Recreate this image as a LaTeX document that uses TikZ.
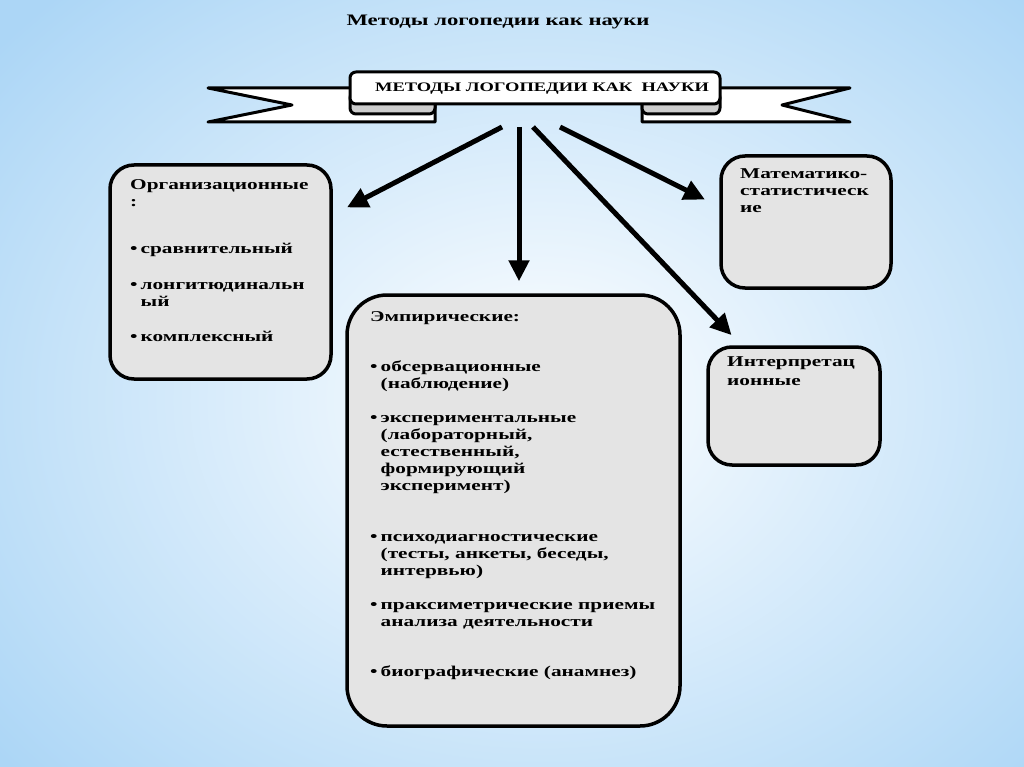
\documentclass[tikz,border=0pt]{standalone}
\usepackage{fontspec}
\setmainfont{Liberation Serif}[FakeStretch=1.42]
\usetikzlibrary{arrows.meta}
\definecolor{bgblue}{RGB}{172,214,246}
\definecolor{boxgray}{RGB}{228,228,228}
\definecolor{foldgray}{RGB}{205,205,205}
\newcommand{\bul}{•\hspace{3pt}}
\newcommand{\contline}{\hphantom{•\hspace{3pt}}}
\tikzset{
	box/.style={draw, line width=3.5pt, fill=boxgray, rounded corners=24pt, inner sep=0pt},
	txt/.style={anchor=north west, align=left, inner sep=0pt, font=\bfseries\fontsize{15}{17}\selectfont},
	arr/.style={line width=5pt, -{Triangle[length=21pt,width=20pt]}},
	ribbon/.style={draw, line width=3pt, fill=white, line join=round},
}

\begin{document}
\begin{tikzpicture}[x=1pt, y=-1pt]
		% background
		\useasboundingbox (0,0) rectangle (1024,767);
		\begin{scope}
			\clip (0,0) rectangle (1024,767);
			\fill[bgblue] (0,0) rectangle (1024,767);
			\shade[inner color=white, outer color=bgblue] (540,400) ellipse (700 and 560);
		\end{scope}

		\node (title)[font=\bfseries\fontsize{16}{19}\selectfont] at (498,22) {Методы логопедии как науки};

		% ribbon
		\draw[ribbon] (208,88) -- (435,88) -- (435,122) -- (208,122) -- (292,105) -- cycle;
		\draw[ribbon] (850,88) -- (642,88) -- (642,122) -- (850,122) -- (782,105) -- cycle;
		\draw[ribbon, fill=foldgray, rounded corners=6pt] (350,92) rectangle (435,114);
		\draw[ribbon, fill=foldgray, rounded corners=6pt] (642,92) rectangle (720,114);
		\node (band)[ribbon, rounded corners=6pt, minimum width=370pt, minimum height=32pt, inner sep=0pt, text depth=2pt, font=\bfseries\fontsize{13}{15}\selectfont] at (535,88) {\hspace{14pt}МЕТОДЫ ЛОГОПЕДИИ КАК\ \ НАУКИ};

		\node (org)[box, minimum width=221pt, minimum height=214pt] at (220.5,272) {};
		\node (emp)[box, rounded corners=40pt, minimum width=333pt, minimum height=431pt] at (513.5,510.5) {};
		\node (math)[box, minimum width=170pt, minimum height=132pt] at (806,222) {};
		\node (interp)[box, minimum width=172pt, minimum height=118pt] at (794,406) {};

		\node (orgtxt)[txt] at (130,179) {Организационные\\:\\[30pt]\bul сравнительный\\[19pt]\bul лонгитюдинальн\\\contline ый\\[18pt]\bul комплексный};
		\node (emptxt)[txt] at (370,311) {Эмпирические:\\[33pt]%
			\bul обсервационные\\\contline (наблюдение)\\[17pt]%
			\bul экспериментальные\\\contline (лабораторный,\\\contline естественный,\\\contline формирующий\\\contline эксперимент)\\[34pt]%
			\bul психодиагностические\\\contline (тесты, анкеты, беседы,\\\contline интервью)\\[17pt]%
			\bul праксиметрические приемы\\\contline анализа деятельности\\[33pt]%
			\bul биографические (анамнез)};
		\node (mathtxt)[txt] at (740,168) {Математико-\\статистическ\\ие};
		\node (interptxt)[txt] at (727,356) {Интерпретац\\[2pt]ионные};

		\coordinate (fromL) at (502,127);
		\coordinate (fromD) at (519,127);
		\coordinate (fromR) at (533,127);
		\coordinate (fromM) at (560,127);

		\draw[arr, shorten >=16pt] (fromL) -- (org.27);
		\draw[arr, shorten >=12pt] (fromD) -- (fromD |- emp.north);
		\draw[arr, shorten >=14pt] (fromR) -- (interp.131);
		\draw[arr, shorten >=16pt] (fromM) -- (math.170);
	\end{tikzpicture}
\end{document}
